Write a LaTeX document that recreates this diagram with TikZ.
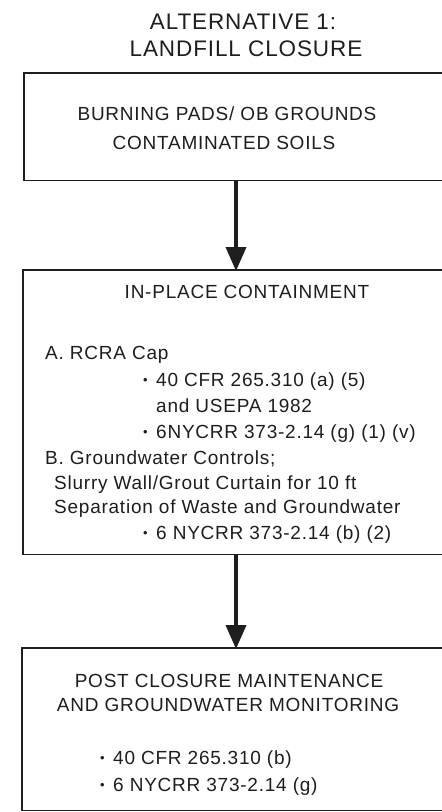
\documentclass[tikz,border=0pt]{standalone}
\usepackage{fontspec}
\setmainfont{Liberation Sans}[LetterSpace=4]
\usetikzlibrary{arrows.meta}
\definecolor{ink}{HTML}{1E1E1E}
\newcommand\mybul{\makebox[13pt][l]{\raisebox{2pt}{\fontsize{13}{13}\selectfont\char"2022}}}
\begin{document}
\begin{tikzpicture}[x=1pt,y=-1pt,
  titletxt/.style={inner sep=0pt,anchor=base,text=ink,font=\fontsize{22.5}{26}\selectfont},
  headtxt/.style={inner sep=0pt,anchor=base,text=ink,font=\fontsize{19}{23}\selectfont},
  itemtxt/.style={inner sep=0pt,anchor=base west,text=ink,font=\fontsize{19}{23}\selectfont},
  boxshape/.style={draw=none,inner sep=0pt,anchor=north west,minimum width=440pt},
  boxline/.style={draw=ink,line width=1.3pt},
  arr/.style={draw=ink,line width=3.6pt,-{Triangle[width=20pt,length=24pt]},shorten >=-1pt}]
\useasboundingbox (0,0) rectangle (442,812);
\clip (0,0) rectangle (442,812);
\fill[white] (0,0) rectangle (442,812);

% title
\node[titletxt] (t1) at (243,29) {ALTERNATIVE 1:};
\node[titletxt] (t2) at (246,56) {LANDFILL CLOSURE};

% boxes
\node[boxshape,minimum height=107pt] (box1) at (24,73) {};
\node[boxshape,minimum height=284pt] (box2) at (23,270) {};
\node[boxshape,minimum height=162pt] (box3) at (22,648) {};
\draw[boxline] (box1.north east) -- (box1.north west) -- (box1.south west) -- (box1.south east);
\draw[boxline] (box2.north east) -- (box2.north west) -- (box2.south west) -- (box2.south east);
\draw[boxline] (box3.north east) -- (box3.north west) -- (box3.south west) -- (box3.south east);

% arrows
\coordinate (ax) at (236,0);
\draw[arr] (box1.south -| ax) -- (box2.north -| ax);
\draw[arr] (box2.south -| ax) -- (box3.north -| ax);

% box 1 text
\node[headtxt] (b1a) at (227,120) {BURNING PADS/ OB GROUNDS};
\node[headtxt] (b1b) at (224,149) {CONTAMINATED SOILS};

% box 2 text
\node[headtxt] (b2h) at (247,298.5) {IN-PLACE CONTAINMENT};
\node[itemtxt] (b2a) at (45,359) {A. RCRA Cap};
\node[itemtxt] (b2b) at (143,386) {\mybul 40 CFR 265.310 (a) (5)};
\node[itemtxt] (b2c) at (156,412) {and USEPA 1982};
\node[itemtxt] (b2d) at (143,438) {\mybul 6NYCRR 373-2.14 (g) (1) (v)};
\node[itemtxt] (b2e) at (45,464) {B. Groundwater Controls;};
\node[itemtxt] (b2f) at (54,489) {Slurry Wall/Grout Curtain for 10 ft};
\node[itemtxt] (b2g) at (54,513) {Separation of Waste and Groundwater};
\node[itemtxt] (b2h2) at (143,539) {\mybul 6 NYCRR 373-2.14 (b) (2)};

% box 3 text
\node[headtxt] (b3a) at (229,687.5) {POST CLOSURE MAINTENANCE};
\node[headtxt] (b3b) at (228,711.5) {AND GROUNDWATER MONITORING};
\node[itemtxt] (b3c) at (100,764) {\mybul 40 CFR 265.310 (b)};
\node[itemtxt] (b3d) at (100,791) {\mybul 6 NYCRR 373-2.14 (g)};
\end{tikzpicture}
\end{document}
